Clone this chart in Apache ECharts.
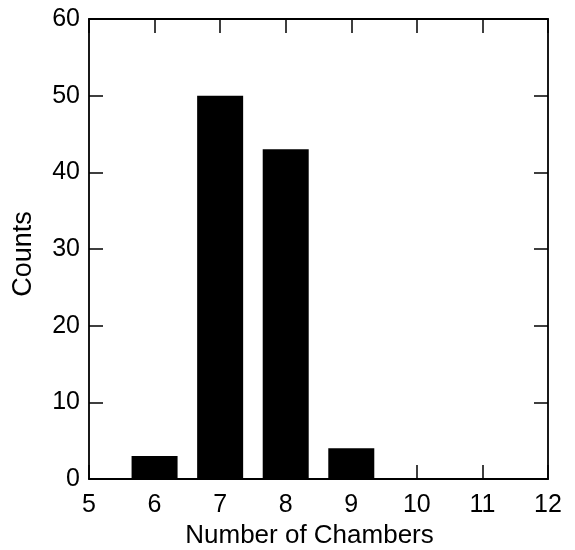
<!DOCTYPE html>
<html>
<head>
<meta charset="utf-8">
<script src="https://cdn.jsdelivr.net/npm/echarts@6/dist/echarts.min.js"></script>
<style>html,body{margin:0;padding:0;background:#fff}#c{width:575px;height:550px}</style>
</head>
<body>
<div id="c"></div>
<script>
const chambers = [6, 7, 8, 9];
const counts = [3, 50, 43, 4];
const xTicks = [5, 6, 7, 8, 9, 10, 11, 12];
const yTicks = [0, 10, 20, 30, 40, 50, 60];

const font = '"Liberation Sans", Arial, sans-serif';
const chart = echarts.init(document.getElementById('c'), null, {renderer: 'canvas'});
const tickStyle = {show: true, inside: true, length: 14, lineStyle: {color: '#000', width: 1.5}};
const lineStyle = {show: true, onZero: false, lineStyle: {color: '#000', width: 1.8}};
chart.setOption({
  animation: false,
  backgroundColor: '#fff',
  grid: {left: 89, top: 19, right: 27, bottom: 71, containLabel: false, outerBoundsMode: 'none'},
  xAxis: [{
    type: 'value', min: xTicks[0], max: xTicks[xTicks.length - 1], interval: 1,
    position: 'bottom',
    name: 'Number of Chambers', nameLocation: 'middle', nameGap: 44,
    nameTextStyle: {fontFamily: font, fontSize: 26, color: '#000', padding: [0, 18, 0, 0]},
    axisLine: lineStyle, axisTick: tickStyle, splitLine: {show: false},
    axisLabel: {fontFamily: font, fontSize: 25, color: '#000', margin: 14}
  }, {
    type: 'value', min: xTicks[0], max: xTicks[xTicks.length - 1], interval: 1,
    position: 'top',
    axisLine: lineStyle, axisTick: tickStyle, splitLine: {show: false},
    axisLabel: {show: false}
  }],
  yAxis: [{
    type: 'value', min: yTicks[0], max: yTicks[yTicks.length - 1], interval: 10,
    position: 'left',
    name: 'Counts', nameLocation: 'middle', nameGap: 52,
    nameTextStyle: {fontFamily: font, fontSize: 27, color: '#000', padding: [0, 10, 0, 0]},
    axisLine: lineStyle, axisTick: tickStyle, splitLine: {show: false},
    axisLabel: {fontFamily: font, fontSize: 25, color: '#000', margin: 9}
  }, {
    type: 'value', min: yTicks[0], max: yTicks[yTicks.length - 1], interval: 10,
    position: 'right',
    axisLine: lineStyle, axisTick: tickStyle, splitLine: {show: false},
    axisLabel: {show: false}
  }],
  series: [{
    type: 'bar',
    xAxisIndex: 0, yAxisIndex: 0,
    barWidth: 46,
    itemStyle: {color: '#000'},
    data: chambers.map((c, i) => [c, counts[i]])
  }]
});
</script>
</body>
</html>
